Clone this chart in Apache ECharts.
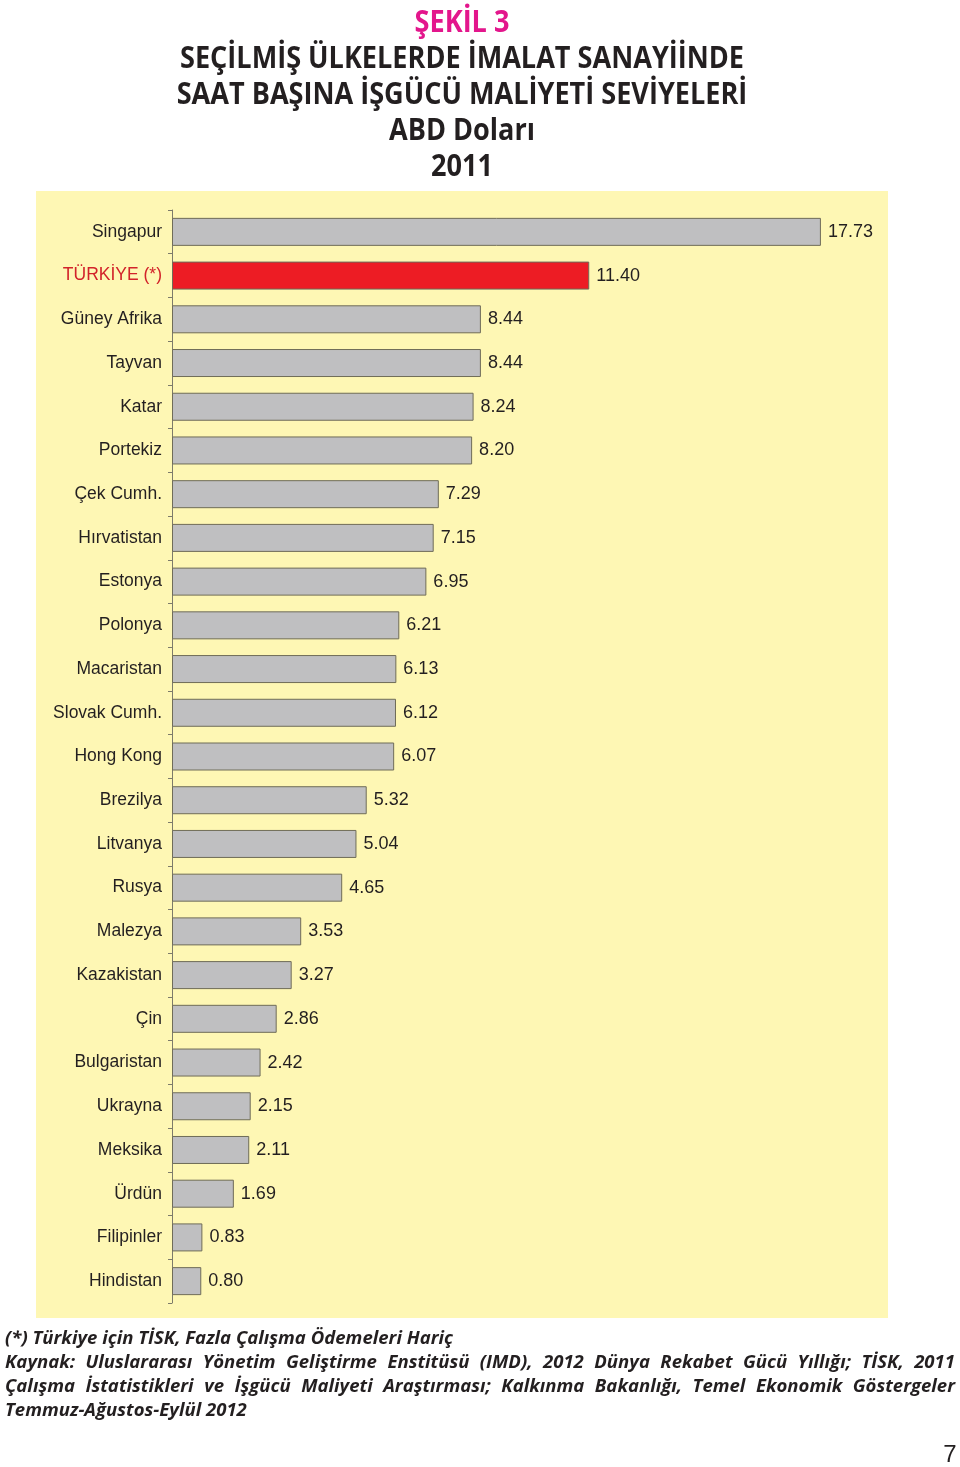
<!DOCTYPE html>
<html><head><meta charset="utf-8">
<script src="https://cdn.jsdelivr.net/npm/echarts@6/dist/echarts.min.js"></script>
<style>html,body{margin:0;padding:0;background:#fff}#c{width:960px;height:1467px}</style>
</head><body><div id="c"></div>
<script>
const categories = ["Singapur","TÜRKİYE (*)","Güney Afrika","Tayvan","Katar","Portekiz","Çek Cumh.","Hırvatistan","Estonya","Polonya","Macaristan","Slovak Cumh.","Hong Kong","Brezilya","Litvanya","Rusya","Malezya","Kazakistan","Çin","Bulgaristan","Ukrayna","Meksika","Ürdün","Filipinler","Hindistan"];
const values = [17.73,11.40,8.44,8.44,8.24,8.20,7.29,7.15,6.95,6.21,6.13,6.12,6.07,5.32,5.04,4.65,3.53,3.27,2.86,2.42,2.15,2.11,1.69,0.83,0.80];
const highlight = "TÜRKİYE (*)";
const titleLines = ["ŞEKİL 3","SEÇİLMİŞ ÜLKELERDE İMALAT SANAYİİNDE","SAAT BAŞINA İŞGÜCÜ MALİYETİ SEVİYELERİ","ABD Doları","2011"];
const noteLines = ["(*) Türkiye için TİSK, Fazla Çalışma Ödemeleri Hariç","Kaynak: Uluslararası Yönetim Geliştirme Enstitüsü (IMD), 2012 Dünya Rekabet Gücü Yıllığı; TİSK, 2011","Çalışma İstatistikleri ve İşgücü Maliyeti Araştırması; Kalkınma Bakanlığı, Temel Ekonomik Göstergeler","Temmuz-Ağustos-Eylül 2012"];
const pageNo = "7";

const ctx = document.createElement('canvas').getContext('2d');
function measure(t, font){ ctx.font = font; return ctx.measureText(t).width; }

const graphics = [];
graphics.push({type:'rect', z:-100, shape:{x:36,y:191,width:852,height:1127}, style:{fill:'#fef7b4'}});

// title
const tFont = 'bold 30px "Open Sans"';
const tScale = 564 / measure(titleLines[1], tFont);
const tY = [23,59,95,131,167];
titleLines.forEach((t,i)=>{
  graphics.push({type:'text', x:462, y:tY[i], scaleX:tScale, style:{text:t, font:tFont, fill: i===0?'#e3168c':'#231f20', textAlign:'center', textVerticalAlign:'middle'}});
});

// footnote
const nFont = 'italic bold 18px "Open Sans"';
const nScale = 448 / measure(noteLines[0], nFont);
const nY = [1339,1363,1387,1411];
noteLines.forEach((t,i)=>{
  const justify = (i===1 || i===2);
  if(!justify){
    graphics.push({type:'text', x:5, y:nY[i], scaleX:nScale, style:{text:t, font:nFont, fill:'#231f20', textAlign:'left', textVerticalAlign:'middle'}});
  } else {
    const words = t.split(' ');
    const ws = words.map(w=>measure(w,nFont)*nScale);
    const total = ws.reduce((a,b)=>a+b,0);
    const gap = (950 - total)/(words.length-1);
    let x = 5;
    words.forEach((w,j)=>{
      graphics.push({type:'text', x:x, y:nY[i], scaleX:nScale, style:{text:w, font:nFont, fill:'#231f20', textAlign:'left', textVerticalAlign:'middle'}});
      x += ws[j] + gap;
    });
  }
});
graphics.push({type:'text', x:950, y:1455, style:{text:pageNo, font:'24px "Liberation Sans"', fill:'#231f20', textAlign:'center', textVerticalAlign:'middle'}});

const chart = echarts.init(document.getElementById('c'), null, {renderer:'canvas'});
chart.setOption({
  animation:false,
  backgroundColor:'#ffffff',
  graphic: graphics,
  grid:{left:172, top:210, width:732, height:1093, containLabel:false},
  xAxis:{type:'value', min:0, max:20, show:false},
  yAxis:{type:'category', inverse:true, data:categories,
    axisLine:{lineStyle:{color:'#7d7b6a', width:1}},
    axisTick:{show:true, length:4, inside:false, alignWithLabel:false, lineStyle:{color:'#7d7b6a'}},
    axisLabel:{margin:10, fontFamily:'Liberation Sans', fontSize:17.5,
      color:(v)=> v===highlight ? '#d2232a' : '#231f20'}
  },
  series:[{type:'bar', barWidth:28,
    data: values.map((v,i)=>({value:v, itemStyle:{color: categories[i]===highlight ? '#ed1c24' : '#bfbfc1'}})),
    itemStyle:{borderColor:'#6f6c58', borderWidth:1},
    label:{show:true, position:'right', distance:7, fontFamily:'Liberation Sans', fontSize:18, color:'#231f20',
      formatter:(p)=>p.value.toFixed(2)}
  }]
});
</script></body></html>
